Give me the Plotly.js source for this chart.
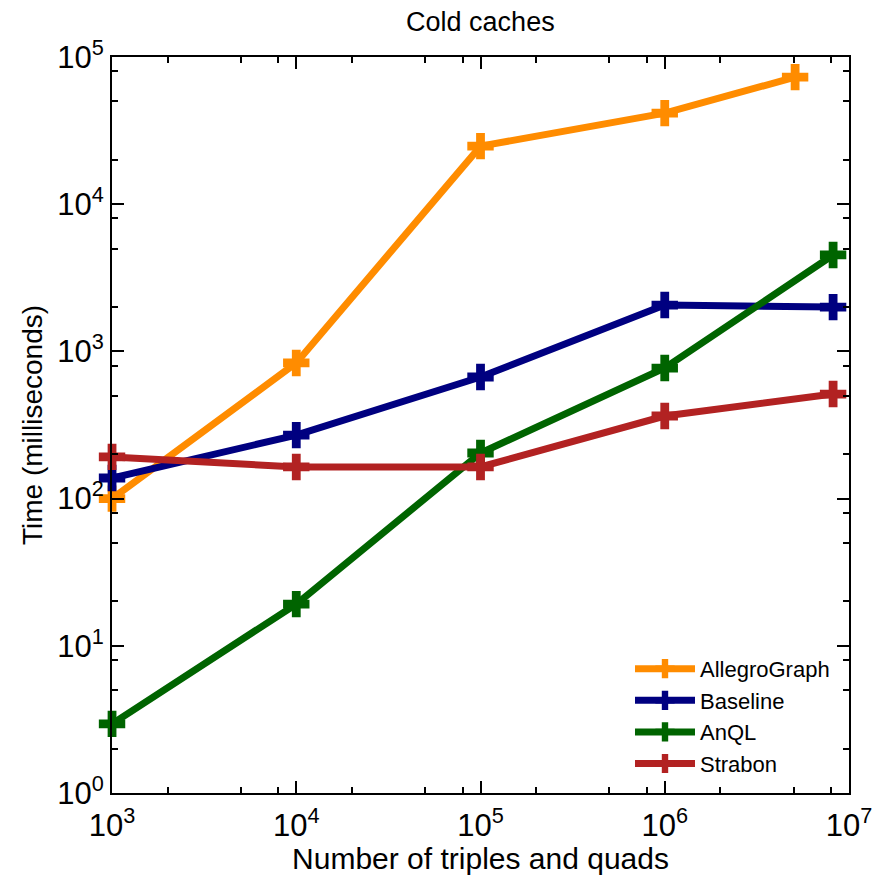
<!DOCTYPE html>
<html>
<head>
<meta charset="utf-8">
<script src="https://cdn.plot.ly/plotly-3.0.1.min.js"></script>
<style>html,body{margin:0;padding:0;background:#fff;}#chart{width:879px;height:875px;}</style>
</head>
<body>
<div id="chart"></div>
<script>
const seriesNames = ["AllegroGraph", "Baseline", "AnQL", "Strabon"];
const seriesColors = ["#ff8c00", "#000080", "#006400", "#b22222"];
const xAllegro = [1000, 10000, 100000, 1000000, 5100000];
const yAllegro = [100, 835, 24800, 41600, 73000];
const xBaseline = [1000, 10000, 100000, 1000000, 8200000];
const yBaseline = [138, 270, 670, 2065, 2000];
const xAnQL = [1000, 10000, 100000, 1000000, 8200000];
const yAnQL = [2.95, 19.2, 204, 771, 4520];
const xStrabon = [1000, 10000, 100000, 1000000, 8200000];
const yStrabon = [192, 164, 164, 364, 513];

const xTickVals = [1e3, 1e4, 1e5, 1e6, 1e7];
const xTickText = ["10<sup>3</sup>", "10<sup>4</sup>", "10<sup>5</sup>", "10<sup>6</sup>", "10<sup>7</sup>"];
const yTickVals = [1, 10, 100, 1000, 1e4, 1e5];
const yTickText = ["10<sup>0</sup>", "10<sup>1</sup>", "10<sup>2</sup>", "10<sup>3</sup>", "10<sup>4</sup>", "10<sup>5</sup>"];
const minorMult = [2, 5, 8];

function minorVals(lo, hi) {
  const out = [];
  for (let d = lo; d < hi; d++) for (const m of minorMult) out.push(m * Math.pow(10, d));
  return out;
}

const xs = [xAllegro, xBaseline, xAnQL, xStrabon];
const ys = [yAllegro, yBaseline, yAnQL, yStrabon];
const traces = seriesNames.map((n, i) => ({
  x: xs[i], y: ys[i], name: n, type: 'scatter', mode: 'lines+markers',
  line: {color: seriesColors[i], width: 7},
  marker: {symbol: 'cross', size: 22, color: seriesColors[i], line: {width: 0}},
  cliponaxis: false
}));

const fontFam = "Liberation Sans, Arial, sans-serif";
const axisCommon = {
  type: 'log', showgrid: false, zeroline: false,
  showline: true, linecolor: '#000', linewidth: 2, mirror: 'ticks',
  ticks: 'inside', ticklen: 12, tickwidth: 2, tickcolor: '#000',
  tickfont: {family: fontFam, size: 31, color: '#000'},
  minor: {ticks: 'inside', ticklen: 6, tickwidth: 2, tickcolor: '#000', showgrid: false}
};

const layout = {
  width: 879, height: 875,
  margin: {l: 112, r: 30, t: 57, b: 82},
  paper_bgcolor: '#fff', plot_bgcolor: '#fff',
  font: {family: fontFam, color: '#000'},
  title: {text: 'Cold caches', font: {family: fontFam, size: 27, color: '#000'}, x: 0.5465, xanchor: 'center', y: 0.975, yanchor: 'middle'},
  xaxis: Object.assign({}, axisCommon, {
    range: [2.9998, 7.0001], tickvals: xTickVals, ticktext: xTickText, ticklabelstandoff: 4,
    minor: Object.assign({}, axisCommon.minor, {tickvals: minorVals(3, 7)}),
    title: {text: 'Number of triples and quads', font: {family: fontFam, size: 30, color: '#000'}, standoff: 0}
  }),
  yaxis: Object.assign({}, axisCommon, {
    range: [-0.0001, 5.0001], tickvals: yTickVals, ticktext: yTickText,
    minor: Object.assign({}, axisCommon.minor, {tickvals: minorVals(0, 5)}),
    title: {text: 'Time (milliseconds)', font: {family: fontFam, size: 28, color: '#000'}, standoff: 6}
  }),
  showlegend: true,
  legend: {x: 0.981, y: 0.011, xanchor: 'right', yanchor: 'bottom', bgcolor: 'rgba(0,0,0,0)',
    font: {family: fontFam, size: 22, color: '#000'}, itemwidth: 60, tracegroupgap: 0}
};

Plotly.newPlot('chart', traces, layout, {displayModeBar: false, staticPlot: true});
</script>
</body>
</html>
